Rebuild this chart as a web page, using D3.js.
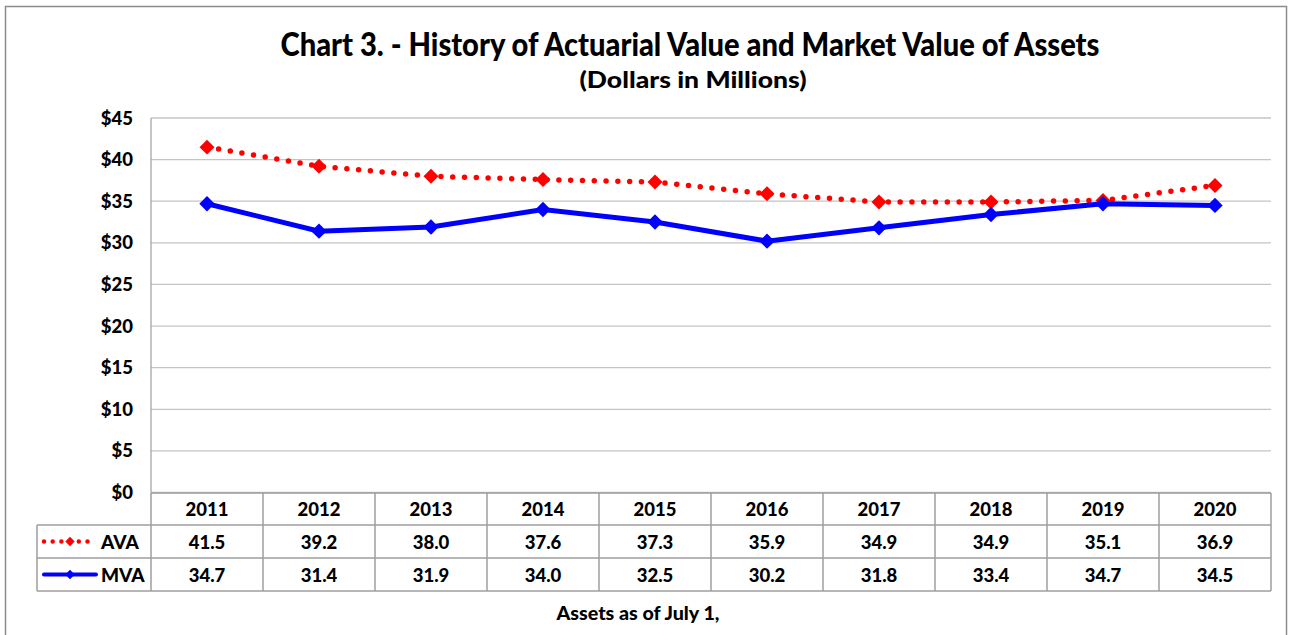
<!DOCTYPE html>
<html>
<head>
<meta charset="utf-8">
<script src="https://cdn.jsdelivr.net/npm/d3@7"></script>
<style>
  body { margin: 0; background: #fff; }
  text { font-family: Lato, "Open Sans", sans-serif; font-weight: 900; fill: #000; }
</style>
</head>
<body>
<div id="chart"></div>
<script>
var years = ['2011', '2012', '2013', '2014', '2015', '2016', '2017', '2018', '2019', '2020']
var ava = [41.5, 39.2, 38.0, 37.6, 37.3, 35.9, 34.9, 34.9, 35.1, 36.9]
var mva = [34.7, 31.4, 31.9, 34.0, 32.5, 30.2, 31.8, 33.4, 34.7, 34.5]
var yTicks = [0, 5, 10, 15, 20, 25, 30, 35, 40, 45]

var W = 1291, H = 635
var svg = d3.select('#chart').append('svg').attr('width', W).attr('height', H)

// outer frame
svg.append('rect')
  .attr('x', 5.5).attr('y', 6.5).attr('width', 1281).attr('height', 660)
  .attr('fill', 'none').attr('stroke', '#8c8c8c').attr('stroke-width', 1.5)

// titles
svg.append('text').attr('x', 690).attr('y', 56).attr('text-anchor', 'middle')
  .attr('font-size', 32).attr('textLength', 819).attr('lengthAdjust', 'spacingAndGlyphs')
  .text('Chart 3. - History of Actuarial Value and Market Value of Assets')
svg.append('text').attr('x', 693).attr('y', 88).attr('text-anchor', 'middle')
  .attr('font-size', 22).attr('textLength', 227).attr('lengthAdjust', 'spacingAndGlyphs')
  .text('(Dollars in Millions)')

var plotLeft = 151, plotRight = 1271, plotTop = 118, plotBottom = 492.5

var x = d3.scaleBand().domain(years).range([plotLeft, plotRight])
var y = d3.scaleLinear().domain([0, 45]).range([plotBottom, plotTop])
var cx = function(d, i){ return x(years[i]) + x.bandwidth() / 2 }

// gridlines
svg.append('g').selectAll('line').data(yTicks).join('line')
  .attr('x1', plotLeft).attr('x2', plotRight)
  .attr('y1', function(d){ return y(d) }).attr('y2', function(d){ return y(d) })
  .attr('stroke', '#c4c4c4').attr('stroke-width', 1.3)
svg.append('line').attr('x1', plotLeft).attr('x2', plotLeft).attr('y1', plotTop).attr('y2', plotBottom)
  .attr('stroke', '#a6a6a6').attr('stroke-width', 1.3)

// y labels
svg.append('g').selectAll('text').data(yTicks).join('text')
  .attr('x', 133).attr('y', function(d){ return y(d) + 6.5 })
  .attr('text-anchor', 'end').attr('font-size', 18.5)
  .text(function(d){ return '$' + d })

var line = d3.line().x(cx).y(function(d){ return y(d) })
var diamond = d3.symbol().type(d3.symbolSquare)

// AVA dotted
svg.append('path').attr('d', line(ava))
  .attr('fill', 'none').attr('stroke', '#ff0000').attr('stroke-width', 5.5)
  .attr('stroke-linecap', 'round').attr('stroke-dasharray', '0 11.8')
// MVA solid
svg.append('path').attr('d', line(mva))
  .attr('fill', 'none').attr('stroke', '#0000ff').attr('stroke-width', 5)

svg.append('g').selectAll('path').data(ava).join('path')
  .attr('d', diamond.size(112)())
  .attr('transform', function(d, i){ return 'translate(' + cx(d, i) + ',' + y(d) + ') rotate(45)' })
  .attr('fill', '#ff0000')
svg.append('g').selectAll('path').data(mva).join('path')
  .attr('d', diamond.size(118)())
  .attr('transform', function(d, i){ return 'translate(' + cx(d, i) + ',' + y(d) + ') rotate(45)' })
  .attr('fill', '#0000ff')

// data table
var rows = [493, 525, 558, 591]
var tableLeft = 37
var grid = svg.append('g').attr('stroke', '#9e9e9e').attr('stroke-width', 1.5)
grid.append('line').attr('x1', plotLeft).attr('x2', plotRight).attr('y1', rows[0]).attr('y2', rows[0])
rows.slice(1).forEach(function(r){
  grid.append('line').attr('x1', tableLeft).attr('x2', plotRight).attr('y1', r).attr('y2', r)
})
years.forEach(function(yr){
  grid.append('line').attr('x1', x(yr)).attr('x2', x(yr)).attr('y1', rows[0]).attr('y2', rows[3])
})
grid.append('line').attr('x1', plotRight).attr('x2', plotRight).attr('y1', rows[0]).attr('y2', rows[3])
grid.append('line').attr('x1', tableLeft).attr('x2', tableLeft).attr('y1', rows[1]).attr('y2', rows[3])

svg.append('g').selectAll('text').data(years).join('text')
  .attr('x', function(d){ return x(d) + x.bandwidth() / 2 }).attr('y', 516)
  .attr('text-anchor', 'middle').attr('font-size', 18.5).text(function(d){ return d })

var series = [
  {name: 'AVA', values: ava, color: '#ff0000', dotted: true},
  {name: 'MVA', values: mva, color: '#0000ff', dotted: false}
]
series.forEach(function(s, k){
  var ty = (rows[k + 1] + rows[k + 2]) / 2
  svg.append('g').selectAll('text').data(s.values).join('text')
    .attr('x', cx).attr('y', ty + 7)
    .attr('text-anchor', 'middle').attr('font-size', 18.5)
    .text(function(d){ return d.toFixed(1) })
  var key = svg.append('line').attr('x1', 44).attr('x2', 96).attr('y1', ty).attr('y2', ty)
    .attr('stroke', s.color).attr('stroke-linecap', 'round')
  if (s.dotted) key.attr('stroke-width', 4.5).attr('stroke-dasharray', '0 8.7')
  else key.attr('stroke-width', 4)
  svg.append('path').attr('d', diamond.size(44)())
    .attr('transform', 'translate(70,' + ty + ') rotate(45)').attr('fill', s.color)
  svg.append('text').attr('x', 101).attr('y', ty + 7).attr('font-size', 19).text(s.name)
})

svg.append('text').attr('x', 638).attr('y', 620).attr('text-anchor', 'middle')
  .attr('font-size', 18).attr('textLength', 163).attr('lengthAdjust', 'spacingAndGlyphs')
  .text('Assets as of July 1,')
</script>
</body>
</html>
